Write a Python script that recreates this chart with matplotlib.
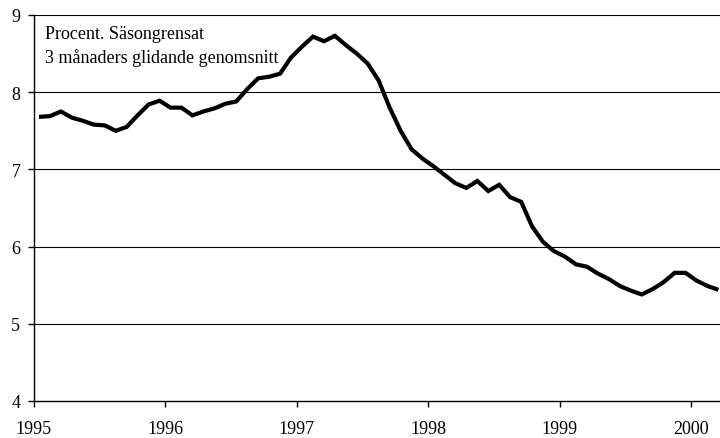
import matplotlib
matplotlib.use("Agg")
import matplotlib.pyplot as plt
import numpy as np

plt.rcParams['font.family'] = ['Liberation Serif', 'DejaVu Serif']

# Monthly values, Jan 1995 - Mar 2000 (percent, seasonally adjusted, 3-month moving average)
values_1995 = [7.68, 7.69, 7.75, 7.67, 7.63, 7.58, 7.57, 7.50, 7.55, 7.70, 7.84, 7.89]
values_1996 = [7.80, 7.80, 7.70, 7.75, 7.79, 7.85, 7.88, 8.04, 8.18, 8.20, 8.24, 8.45]
values_1997 = [8.59, 8.72, 8.66, 8.73, 8.61, 8.50, 8.37, 8.15, 7.80, 7.50, 7.26, 7.14]
values_1998 = [7.04, 6.93, 6.82, 6.76, 6.85, 6.72, 6.80, 6.64, 6.58, 6.26, 6.06, 5.94]
values_1999 = [5.87, 5.77, 5.74, 5.65, 5.58, 5.49, 5.43, 5.38, 5.45, 5.54, 5.66, 5.66]
values_2000 = [5.56, 5.49, 5.44]
values = values_1995 + values_1996 + values_1997 + values_1998 + values_1999 + values_2000

year_labels = ["1995", "1996", "1997", "1998", "1999", "2000"]
y_ticks = [4, 5, 6, 7, 8, 9]
note_lines = ["Procent. Säsongrensat", "3 månaders glidande genomsnitt"]

W, H = 720, 439
fig = plt.figure(figsize=(W / 100, H / 100), dpi=100)
left_px, right_px = 33.5, 723.9
top_px, bottom_px = 16, 402
ax = fig.add_axes([left_px / W, 1 - bottom_px / H, (right_px - left_px) / W, (bottom_px - top_px) / H])

x = np.arange(len(values)) + 0.5
ax.plot(x, values, color='black', lw=3.0, solid_joinstyle='miter', solid_capstyle='butt', zorder=3)

ax.set_xlim(0, 63)
ax.set_ylim(4, 9)
ax.set_yticks(y_ticks)
ax.set_yticklabels([str(v) for v in y_ticks])
ax.set_xticks(np.arange(len(year_labels)) * 12)
ax.set_xticklabels(year_labels)

for v in y_ticks[1:]:
    ax.axhline(v, color='black', lw=0.8, zorder=1)

for s in ['top', 'right']:
    ax.spines[s].set_visible(False)
for s in ['left', 'bottom']:
    ax.spines[s].set_linewidth(1.0)
    ax.spines[s].set_color('black')

ax.tick_params(axis='y', direction='out', length=4.5, width=1.0, pad=5, labelsize=13)
ax.tick_params(axis='x', direction='out', length=4, width=1.0, pad=10, labelsize=13)

fig.text(45 / W, 1 - 39 / H, note_lines[0], fontsize=13, va='baseline', ha='left')
fig.text(45 / W, 1 - 63 / H, note_lines[1], fontsize=13, va='baseline', ha='left')

fig.savefig("out.png", dpi=100)
